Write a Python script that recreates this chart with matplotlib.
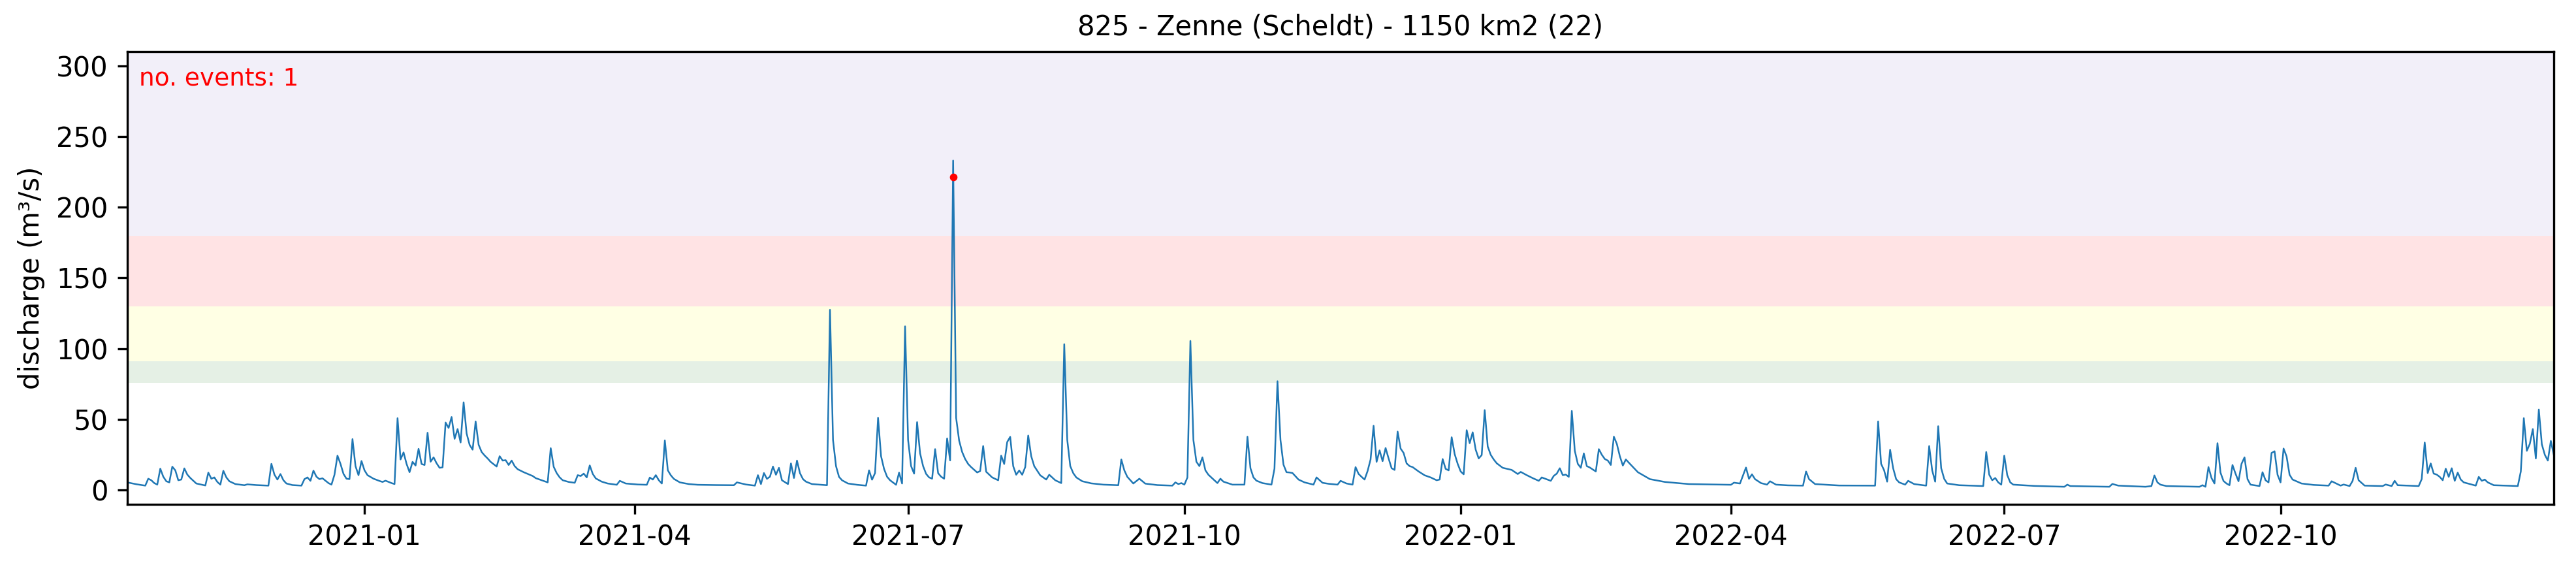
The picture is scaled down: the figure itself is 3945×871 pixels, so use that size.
import matplotlib
matplotlib.use("Agg")
import matplotlib.pyplot as plt
import matplotlib.dates as mdates
import pandas as pd

# station info
title = "825 - Zenne (Scheldt) - 1150 km2 (22)"
start = "2020-10-14"

# days since start, discharge (m3/s)
days = [0, 3, 6, 7, 8, 9, 10, 11, 12, 13, 14, 15, 16, 17, 18, 19, 20, 21, 23, 26,
        27, 28, 29, 30, 31, 32, 33, 34, 36, 39, 40, 43, 47, 48, 49, 50, 51, 52, 53, 55,
        58, 59, 60, 61, 62, 63, 64, 65, 67, 68, 69, 70, 71, 72, 73, 74, 75, 76, 77, 78,
        79, 80, 82, 84, 85, 86, 88, 89, 90, 91, 92, 93, 94, 95, 96, 97, 98, 99, 100, 101,
        102, 103, 104, 105, 106, 107, 108, 109, 110, 111, 112, 113, 114, 115, 116, 117, 118, 119, 120, 121,
        123, 124, 125, 126, 127, 128, 129, 130, 132, 135, 136, 138, 140, 141, 142, 143, 144, 145, 147, 149,
        150, 151, 152, 153, 154, 155, 156, 158, 160, 163, 164, 166, 170, 173, 174, 175, 176, 177, 178, 179,
        180, 181, 182, 184, 187, 190, 196, 202, 203, 204, 206, 209, 210, 211, 212, 213, 214, 215, 216, 217,
        218, 220, 221, 222, 223, 224, 225, 226, 228, 233, 234, 235, 236, 237, 238, 240, 243, 246, 247, 248,
        249, 250, 251, 252, 253, 254, 256, 257, 258, 259, 260, 261, 262, 263, 264, 265, 266, 267, 268, 269,
        270, 271, 272, 273, 274, 275, 276, 277, 278, 279, 280, 281, 283, 284, 285, 286, 288, 290, 291, 292,
        293, 294, 295, 296, 297, 298, 299, 300, 301, 302, 304, 306, 307, 309, 311, 312, 313, 314, 315, 316,
        318, 321, 325, 330, 331, 332, 333, 335, 337, 339, 343, 348, 349, 350, 351, 352, 353, 354, 355, 356,
        357, 358, 359, 360, 363, 364, 365, 368, 372, 373, 374, 375, 376, 378, 381, 382, 383, 384, 385, 386,
        387, 388, 390, 392, 395, 396, 398, 400, 403, 404, 406, 408, 409, 410, 411, 412, 413, 414, 415, 416,
        417, 418, 419, 420, 421, 422, 423, 424, 425, 426, 427, 428, 430, 432, 434, 436, 437, 438, 439, 440,
        441, 442, 443, 444, 445, 446, 447, 448, 449, 450, 451, 452, 453, 454, 455, 456, 458, 461, 463, 464,
        466, 468, 470, 471, 474, 475, 476, 477, 478, 479, 480, 481, 482, 483, 484, 485, 486, 487, 489, 490,
        491, 492, 493, 494, 495, 496, 497, 498, 499, 500, 503, 507, 512, 520, 534, 535, 537, 539, 540, 541,
        542, 544, 546, 547, 549, 553, 558, 559, 560, 562, 570, 582, 583, 584, 585, 586, 587, 588, 589, 590,
        592, 593, 595, 599, 600, 601, 602, 603, 604, 605, 606, 610, 618, 619, 620, 621, 622, 623, 624, 625,
        626, 627, 628, 635, 645, 646, 647, 660, 661, 663, 672, 674, 675, 676, 677, 679, 690, 691, 692, 693,
        694, 695, 696, 697, 698, 699, 700, 701, 702, 703, 704, 705, 706, 707, 710, 711, 712, 713, 714, 715,
        716, 717, 718, 719, 720, 721, 724, 728, 733, 734, 737, 738, 740, 741, 742, 743, 745, 751, 752, 754,
        755, 756, 763, 764, 765, 766, 767, 768, 769, 770, 771, 772, 773, 774, 775, 776, 777, 778, 782, 783,
        784, 785, 786, 788, 796, 797, 798, 799, 800, 801, 802, 803, 804, 805, 806, 807, 808]

discharge = [5.5, 4.2, 3.2, 8.1, 7.0, 5.0, 3.9, 15.2, 9.5, 6.3, 5.5, 16.6, 14.0, 7.0, 7.5, 15.4, 11.0, 8.6, 4.7, 3.3,
             12.4, 8.1, 9.0, 5.8, 3.9, 13.7, 9.0, 6.3, 4.3, 3.5, 4.1, 3.6, 3.2, 18.6, 11.0, 7.5, 11.4, 7.0, 4.7, 3.6,
             3.2, 7.8, 9.0, 6.6, 13.8, 9.5, 7.8, 8.4, 5.0, 3.9, 10.9, 24.4, 18.6, 11.5, 8.1, 7.8, 36.1, 17.0, 10.6, 20.6,
             14.0, 10.6, 8.1, 6.5, 5.8, 6.7, 5.0, 4.3, 50.9, 21.7, 26.7, 18.6, 12.7, 20.0, 17.4, 29.2, 18.5, 17.8, 40.6, 20.1,
             23.2, 19.0, 15.8, 16.1, 47.8, 44.0, 51.7, 36.3, 43.2, 33.7, 62.1, 40.1, 32.0, 28.6, 48.6, 32.1, 27.0, 24.5, 22.4, 20.0,
             16.7, 24.0, 20.9, 21.2, 17.8, 20.9, 17.0, 14.8, 12.7, 10.0, 8.5, 7.0, 5.5, 29.7, 16.5, 12.0, 9.0, 7.0, 5.8, 5.2,
             10.6, 10.0, 11.7, 9.0, 17.5, 11.5, 8.3, 6.0, 4.7, 3.8, 6.6, 4.7, 4.0, 3.8, 8.9, 7.5, 10.6, 7.0, 4.7, 35.2,
             14.0, 10.5, 8.0, 5.5, 4.3, 3.8, 3.6, 3.5, 5.5, 5.0, 4.0, 3.2, 10.6, 4.3, 12.1, 8.0, 9.5, 16.7, 10.9, 15.8,
             7.0, 4.3, 18.9, 8.6, 20.9, 12.0, 7.8, 6.0, 4.3, 3.5, 127.5, 35.5, 17.0, 9.4, 7.0, 4.7, 3.8, 3.2, 14.0, 7.4,
             12.1, 51.2, 24.0, 15.0, 9.5, 7.0, 3.8, 12.4, 4.7, 115.8, 35.5, 17.0, 11.7, 48.1, 26.0, 17.0, 11.5, 9.0, 8.1, 29.0,
             12.0, 9.5, 8.1, 36.6, 21.0, 233.0, 51.0, 35.0, 27.0, 22.0, 18.5, 16.3, 12.5, 13.5, 31.2, 13.0, 9.0, 7.0, 24.4, 18.5,
             34.0, 37.7, 17.0, 10.9, 13.9, 10.9, 16.3, 38.6, 24.0, 17.0, 10.5, 7.5, 10.9, 7.0, 5.0, 103.2, 35.5, 17.0, 12.0, 9.0,
             6.3, 4.8, 3.9, 3.5, 21.7, 14.0, 9.4, 4.7, 8.1, 4.6, 3.6, 3.2, 5.5, 4.3, 5.0, 3.9, 8.9, 105.5, 35.5, 20.1,
             17.0, 23.2, 14.0, 10.9, 5.0, 8.1, 6.0, 3.9, 3.9, 37.8, 15.5, 9.0, 6.7, 5.0, 3.9, 15.2, 77.0, 35.5, 18.0, 12.7,
             12.5, 12.1, 7.5, 5.5, 3.9, 9.0, 5.2, 4.5, 3.9, 6.6, 4.7, 3.9, 16.3, 11.5, 9.4, 7.5, 13.5, 21.7, 45.5, 20.0,
             28.1, 20.5, 29.8, 22.4, 15.5, 14.3, 41.4, 29.4, 26.3, 18.9, 17.0, 16.3, 13.2, 10.5, 9.0, 7.0, 7.5, 22.0, 15.0, 14.0,
             37.4, 25.5, 18.6, 13.2, 11.2, 42.4, 33.2, 40.9, 28.6, 22.4, 24.8, 56.6, 30.9, 25.0, 21.7, 19.0, 15.8, 14.3, 11.4, 12.9,
             10.6, 8.5, 6.6, 9.0, 6.6, 10.1, 11.7, 15.5, 10.6, 11.0, 9.4, 56.0, 27.8, 18.6, 15.8, 26.0, 17.0, 16.0, 13.2, 29.0,
             25.0, 22.0, 20.9, 17.8, 37.8, 32.7, 24.0, 17.4, 21.7, 19.4, 12.7, 7.8, 5.8, 4.3, 3.8, 5.3, 4.7, 16.0, 8.0, 11.2,
             7.8, 5.0, 3.9, 6.3, 3.9, 3.4, 3.2, 13.2, 7.8, 4.3, 3.3, 3.2, 48.6, 18.6, 14.0, 6.0, 28.6, 15.5, 7.8, 5.5,
             3.9, 6.6, 4.3, 3.2, 31.2, 14.0, 6.0, 45.2, 15.5, 8.0, 4.7, 3.5, 2.9, 27.0, 10.9, 7.0, 8.6, 5.5, 3.9, 24.4,
             10.6, 5.5, 3.9, 3.0, 2.4, 3.9, 2.9, 2.4, 4.4, 3.2, 2.4, 2.9, 10.4, 5.5, 3.9, 2.9, 2.4, 3.5, 2.4, 16.3,
             8.6, 4.7, 33.2, 12.4, 6.5, 4.7, 3.5, 17.8, 11.7, 6.3, 18.6, 23.2, 7.8, 3.9, 2.9, 12.7, 7.0, 5.5, 26.3, 27.5,
             10.9, 5.5, 29.4, 23.9, 10.9, 7.5, 4.7, 3.7, 3.2, 6.3, 3.2, 4.0, 2.9, 6.6, 15.8, 7.0, 3.2, 2.9, 4.0, 2.9,
             6.6, 3.5, 2.9, 7.8, 33.7, 12.1, 18.9, 11.7, 11.0, 9.4, 7.0, 15.2, 9.4, 15.5, 6.6, 12.4, 7.5, 5.5, 3.2, 9.4,
             6.6, 7.5, 5.5, 3.5, 2.9, 13.2, 50.9, 27.8, 32.7, 43.2, 22.4, 57.0, 32.4, 25.0, 20.9, 34.8, 24.8]

# flood event
event_dates = ["2021-07-16"]
event_values = [221.5]

# return period bands
band_edges = [75.8, 91.2, 130, 180, 310]
band_colors = ["#e5f0e5", "#ffffe4", "#ffe3e4", "#f2eff9"]

dates = pd.Timestamp(start) + pd.to_timedelta(days, unit="D")

fig = plt.figure(figsize=(3945 / 300, 871 / 300), dpi=300)
ax = fig.add_axes([0.0494, 0.1137, 0.9420, 0.7956])

for lo, hi, c in zip(band_edges[:-1], band_edges[1:], band_colors):
    ax.axhspan(lo, hi, color=c, lw=0, zorder=0)

ax.plot(dates, discharge, lw=0.6, color="#1f77b4", zorder=2)
ax.plot(pd.to_datetime(event_dates), event_values, "o", color="red", ms=1.8, zorder=3)

ax.text(0.005, 0.925, f"no. events: {len(event_dates)}", color="red", fontsize=9,
        transform=ax.transAxes, ha="left", va="baseline")

ax.set_title(title, fontsize=10)
ax.set_ylabel("discharge (m\u00b3/s)", fontsize=10)
ax.set_xlim(dates[0], dates[-1])
ax.set_ylim(-10, 310)
ax.xaxis.set_major_locator(mdates.MonthLocator(bymonth=[1, 4, 7, 10]))
ax.xaxis.set_major_formatter(mdates.DateFormatter("%Y-%m"))

fig.savefig("out.png", dpi=300)
